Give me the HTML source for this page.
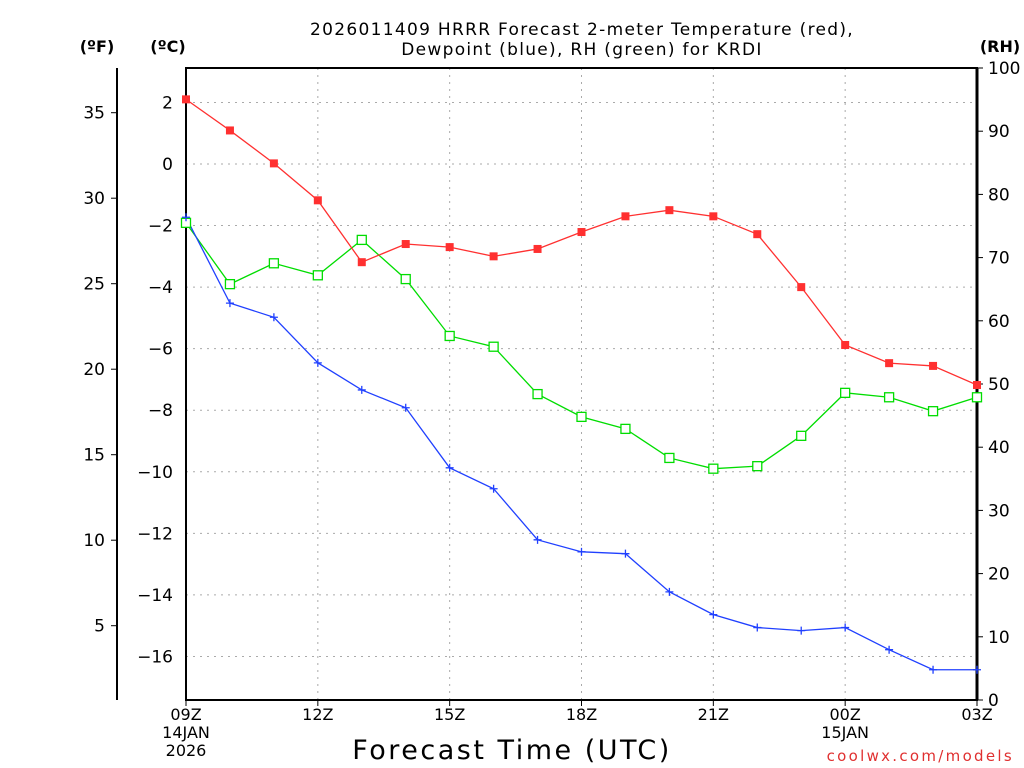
<!DOCTYPE html>
<html><head><meta charset="utf-8"><style>
body{margin:0;background:#fff}
svg{display:block;font-family:"DejaVu Sans","Liberation Sans",sans-serif}
</style></head><body>
<svg id="chart" width="1024" height="768" viewBox="0 0 1024 768">
<rect width="1024" height="768" fill="#fff"/>
<g id="grid"></g>
<g id="axes"></g>
<g id="series"></g>
<text x="582" y="35" text-anchor="middle" font-size="17" letter-spacing="1.3">2026011409 HRRR Forecast 2-meter Temperature (red),</text>
<text x="582" y="55" text-anchor="middle" font-size="17" letter-spacing="1.3">Dewpoint (blue), RH (green) for KRDI</text>
<text x="97" y="52" text-anchor="middle" font-size="16" font-weight="bold">(ºF)</text>
<text x="168" y="52" text-anchor="middle" font-size="16" font-weight="bold">(ºC)</text>
<text x="1000" y="52" text-anchor="middle" font-size="16" font-weight="bold">(RH)</text>
<text x="512" y="759" text-anchor="middle" font-size="27" letter-spacing="2.5">Forecast Time (UTC)</text>
<text x="1014" y="761" text-anchor="end" font-size="15" fill="#e03030" letter-spacing="2.3">coolwx.com/models</text>
</svg>
<script>
const hours=[0,1,2,3,4,5,6,7,8,9,10,11,12,13,14,15,16,17,18];
const tempC=[2.1,1.09,0.02,-1.18,-3.19,-2.6,-2.7,-3.0,-2.76,-2.21,-1.7,-1.5,-1.7,-2.28,-4.0,-5.88,-6.47,-6.56,-7.18];
const dewC=[-1.73,-4.52,-4.98,-6.46,-7.34,-7.92,-9.87,-10.55,-12.21,-12.6,-12.66,-13.9,-14.64,-15.06,-15.16,-15.06,-15.78,-16.43,-16.43];
const rh=[75.5,65.8,69.1,67.2,72.8,66.6,57.6,55.9,48.4,44.8,42.9,38.3,36.6,37.0,41.8,48.6,47.9,45.7,47.9];
const cTicks=[2,0,-2,-4,-6,-8,-10,-12,-14,-16];
const fTicks=[35,30,25,20,15,10,5];
const rhTicks=[0,10,20,30,40,50,60,70,80,90,100];
const xTickHours=[0,3,6,9,12,15,18];
const xTickLabels=["09Z","12Z","15Z","18Z","21Z","00Z","03Z"];

const X0=186,X1=977,Y0=68,Y1=700;
const xs=h=>X0+(X1-X0)*h/18;
const yC=c=>164-c*30.78;
const yF=f=>yC((f-32)/1.8);
const yRH=r=>Y1-(Y1-Y0)*r/100;
const NS="http://www.w3.org/2000/svg";
function mk(parent,tag,attrs,txt){const e=document.createElementNS(NS,tag);for(const k in attrs)e.setAttribute(k,attrs[k]);if(txt!==undefined)e.textContent=txt;document.getElementById(parent).appendChild(e);return e;}

cTicks.forEach(c=>{const l=mk('grid','line',{x1:X0,x2:X1,y1:yC(c),y2:yC(c),stroke:'#aaa','stroke-dasharray':'2,5'});

});
xTickHours.slice(1,-1).forEach(h=>{const l=mk('grid','line',{x1:xs(h),x2:xs(h),y1:Y0,y2:Y1,stroke:'#aaa','stroke-dasharray':'2,5'});

});

let fr=mk('axes','rect',{x:X0,y:Y0,width:X1-X0,height:Y1-Y0,fill:'none',stroke:'#000','stroke-width':2});


let ra=mk('axes','line',{x1:X1,x2:X1,y1:Y0,y2:Y1,stroke:'#000','stroke-width':3});


let fa=mk('axes','line',{x1:117,x2:117,y1:Y0,y2:Y1,stroke:'#000','stroke-width':2});



cTicks.forEach(c=>{const t=mk('axes','text',{x:173,y:yC(c)+6,'text-anchor':'end','font-size':17},(c<0?'\u2212'+(-c):c));

});
fTicks.forEach(f=>{mk('axes','line',{x1:111,x2:117,y1:yF(f),y2:yF(f),stroke:'#000'});
const t=mk('axes','text',{x:105,y:yF(f)+6,'text-anchor':'end','font-size':17},f);

});
rhTicks.forEach(r=>{mk('axes','line',{x1:X1,x2:X1+6,y1:yRH(r),y2:yRH(r),stroke:'#000'});
const t=mk('axes','text',{x:988,y:yRH(r)+6,'font-size':17},r);

});
xTickHours.forEach((h,i)=>{mk('axes','line',{x1:xs(h),x2:xs(h),y1:Y1,y2:Y1+6,stroke:'#000'});
const t=mk('axes','text',{x:xs(h),y:720,'text-anchor':'middle','font-size':16},xTickLabels[i]);

});
[[0,"14JAN",738],[0,"2026",756],[15,"15JAN",738]].forEach(d=>{const t=mk('axes','text',{x:xs(d[0]),y:d[2],'text-anchor':'middle','font-size':16},d[1]);

});

function line(vals,yf,color,name){
 const p=mk('series','polyline',{points:vals.map((v,i)=>xs(hours[i])+','+yf(v)).join(' '),fill:'none',stroke:color,'stroke-width':1.3});
 
 
}
line(rh,yRH,'#00dd00','rh');
line(dewC,yC,'#2040ff','dewpoint');
line(tempC,yC,'#ff3030','temperature');
rh.forEach((v,i)=>{const m=mk('series','rect',{x:xs(hours[i])-4.5,y:yRH(v)-4.5,width:9,height:9,fill:'#fff',stroke:'#00dd00','stroke-width':1.3});

});
dewC.forEach((v,i)=>{const x=xs(hours[i]),y=yC(v);const m=mk('series','path',{d:`M${x-4},${y}H${x+4}M${x},${y-4}V${y+4}`,stroke:'#2040ff','stroke-width':1.3});

});
tempC.forEach((v,i)=>{const m=mk('series','rect',{x:xs(hours[i])-4,y:yC(v)-4,width:8,height:8,fill:'#ff3030'});

});
</script>
</body></html>
